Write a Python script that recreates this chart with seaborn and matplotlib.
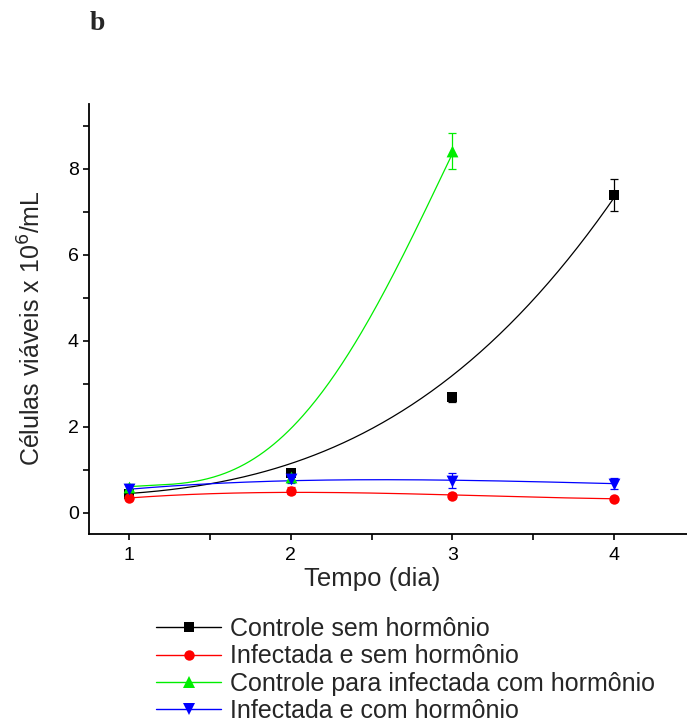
import numpy as np
import pandas as pd
import matplotlib
matplotlib.use("Agg")
import matplotlib.pyplot as plt
import seaborn as sns
from matplotlib.lines import Line2D
from matplotlib.ticker import MultipleLocator

sns.set_style("ticks")
plt.rcParams['font.family'] = ['Liberation Sans', 'DejaVu Sans']

# ---- data ----
days = [1, 2, 3, 4]
labels = ["Controle sem hormônio", "Infectada e sem hormônio",
          "Controle para infectada com hormônio", "Infectada e com hormônio"]
colors = ["#000000", "#ff0000", "#00ee00", "#0000ff"]
markers = ["s", "o", "^", "v"]

ctrl_sem = [0.42, 0.93, 2.68, 7.38]
ctrl_sem_err = [0.08, 0.06, 0.11, 0.37]
inf_sem = [0.34, 0.51, 0.39, 0.32]
inf_sem_err = [0.05, 0.09, 0.06, 0.04]
ctrl_com = [0.60, 0.83, 8.40]
ctrl_com_err = [0.07, 0.10, 0.42]
inf_com = [0.55, 0.79, 0.74, 0.67]
inf_com_err = [0.08, 0.10, 0.17, 0.13]

# fitted trend curves as drawn in the picture (read at half-day steps)
fit_days = [1, 1.5, 2, 2.5, 3, 3.5, 4]
fit_ctrl_sem = [0.41, 0.74, 1.14, 1.85, 3.22, 5.0, 7.30]
fit_inf_sem = [0.34, 0.43, 0.47, 0.46, 0.40, 0.36, 0.32]
fit_ctrl_com = [0.60, 0.80, 1.95, 4.60, 8.35]
fit_inf_com = [0.54, 0.67, 0.74, 0.76, 0.75, 0.72, 0.67]

series = [
    (ctrl_sem, ctrl_sem_err, fit_ctrl_sem, 3),
    (inf_sem, inf_sem_err, fit_inf_sem, 3),
    (ctrl_com, ctrl_com_err, fit_ctrl_com, 4),
    (inf_com, inf_com_err, fit_inf_com, 3),
]
msizes = [7, 7.5, 8.5, 8.5]

fig = plt.figure(figsize=(6.87, 7.24), dpi=100)
ax = fig.add_axes([88.6 / 687, 1 - 534 / 724, 1 - 88.6 / 687, (534 - 104) / 724])

for i, (vals, errs, fit, deg) in enumerate(series):
    fx = np.array(fit_days[:len(fit)], dtype=float)
    coef = np.polyfit(fx, np.array(fit), deg)
    xs = np.linspace(fx[0], fx[-1], 200)
    curve = pd.DataFrame({"x": xs, "y": np.polyval(coef, xs)})
    sns.lineplot(data=curve, x="x", y="y", ax=ax, color=colors[i], lw=0.9,
                 legend=False)
for i, (vals, errs, fit, deg) in enumerate(series):
    n = len(vals)
    ax.errorbar(days[:n], vals, yerr=errs, fmt="none", ecolor=colors[i],
                elinewidth=0.9, capsize=3, capthick=0.9, zorder=3)
    pts = pd.DataFrame({"x": days[:n], "y": vals})
    sns.scatterplot(data=pts, x="x", y="y", ax=ax, color=colors[i],
                    marker=markers[i], s=msizes[i] ** 2, edgecolor=colors[i],
                    linewidth=0, zorder=4, legend=False)

ax.set_xlim(0.75, 4.45)
ax.set_ylim(-0.5, 9.5)
ax.xaxis.set_major_locator(MultipleLocator(1))
ax.xaxis.set_minor_locator(MultipleLocator(0.5))
ax.yaxis.set_major_locator(MultipleLocator(2))
ax.yaxis.set_minor_locator(MultipleLocator(1))
ax.tick_params(which="both", direction="out", length=4, width=1.2,
               labelsize=14, color="black", labelcolor="black")
ax.tick_params(axis="x", pad=5)
ax.tick_params(axis="y", pad=3)
for s in ["top", "right"]:
    ax.spines[s].set_visible(False)
for s in ["left", "bottom"]:
    ax.spines[s].set_linewidth(1.3)
    ax.spines[s].set_color("black")

ax.set_xlabel("Tempo (dia)", fontsize=18.5)
ax.set_ylabel("Células viáveis x 10$^6$/mL", fontsize=18)
ax.xaxis.set_label_coords((372 - 88.6) / (687 - 88.6), -0.077)
ax.yaxis.set_label_coords((46 - 88.6) / (687 - 88.6), (534 - 328) / 430)

handles = [Line2D([0], [0], color=colors[i], lw=1.0, marker=markers[i],
                  markersize=msizes[i], markeredgewidth=0) for i in range(4)]
fig.legend(handles, labels, loc="upper left", bbox_to_anchor=(156 / 687, 1 - 617 / 724),
           frameon=False, fontsize=18, handlelength=2.6, handletextpad=0.35,
           labelspacing=0.13, borderpad=0, borderaxespad=0)

fig.text(97 / 687, 1 - 23 / 724, "b", fontsize=20, fontweight="bold",
         family="Liberation Serif", ha="center", va="center")

fig.savefig("out.png", dpi=100)
